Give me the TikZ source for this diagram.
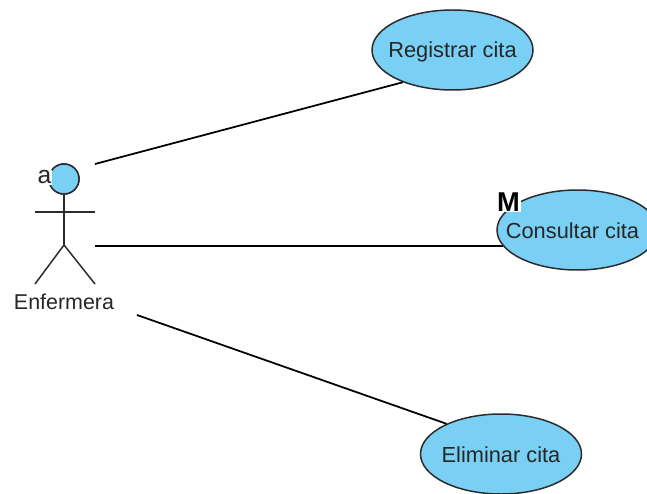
\documentclass[tikz,border=0pt]{standalone}
\usepackage{fontspec}
\setmainfont{Liberation Sans}
\usepackage{tikz}
\usetikzlibrary{positioning, calc, shapes.geometric}
\definecolor{casefill}{HTML}{7ACFF5}
\definecolor{lineink}{HTML}{2B2B2B}

\begin{document}
\begin{tikzpicture}[node distance=7.77cm, auto, line width=0.85pt]
        % Define block styles
        \tikzstyle{usecase} = [ellipse, draw=lineink, fill=casefill, text=black!85, inner xsep=-0.5cm, inner ysep=-0.1cm, text height=0.38cm, text depth=0.06cm, minimum width=3.22cm, minimum height=1.6cm, font=\fontsize{12.4}{14}\selectfont]
        \tikzstyle{actorhead} = [circle, draw=lineink, fill=casefill, inner sep=0pt, minimum size=0.6cm]
        \tikzstyle{stick} = [draw=lineink]
        \tikzstyle{assoc} = [draw=black, line width=1pt]
        \tikzstyle{marker} = [fill=white, inner sep=0.6pt]

        % Keep the margins of the page
        \clip (0,0) rectangle (12.94,-9.88);

        % Place nodes
        \node [actorhead] (head) at (1.28,-3.58) {};
        \node [usecase, right of=head, yshift=2.58cm] (registrar) {Registrar cita};
        \node [usecase, right of=head, xshift=2.5cm, yshift=-1.02cm] (consultar) {Consultar cita\hspace*{0.2cm}};
        \node [usecase, right of=head, xshift=0.97cm, yshift=-5.5cm] (eliminar) {Eliminar cita};

        % Points of the stick figure
        \coordinate (hip) at ($(head)+(0,-1.32)$);
        \coordinate (arm_left) at ($(head)+(-0.58,-0.66)$);
        \coordinate (arm_right) at ($(head)+(0.62,-0.66)$);
        \coordinate (foot_left) at ($(hip)+(-0.58,-0.78)$);
        \coordinate (foot_right) at ($(hip)+(0.62,-0.78)$);
        \node [below=0.36cm of hip, yshift=-0.6cm, font=\fontsize{12.2}{14}\selectfont, text=black!85, inner sep=0pt] (enfermera) {Enfermera};

        % Free ends of the connections
        \coordinate (from_registrar) at (1.9,-3.28);
        \coordinate (from_consultar) at (1.9,-4.92);
        \coordinate (from_eliminar) at (2.74,-6.3);

        % Draw the figure
        \draw [stick] (head) -- (hip);
        \draw [stick] (arm_left) -- (arm_right);
        \draw [stick] (foot_left) -- (hip) -- (foot_right);
        \node [actorhead] at (head) {};

        % Draw connections
        \draw [assoc] (from_registrar) -- (registrar.213);
        \draw [assoc] (from_consultar) -- (from_consultar -| consultar.192);
        \draw [assoc] (from_eliminar) -- (eliminar.151);

        % Add the small marks
        \node [marker, font=\fontsize{14}{14}\selectfont, text=black!85] (mark_a) at (0.89,-3.55) {a};
        \node [marker, font=\bfseries\fontsize{15.5}{16}\selectfont, text=black] (mark_m) at (10.17,-4.04) {M};
    \end{tikzpicture}
\end{document}
